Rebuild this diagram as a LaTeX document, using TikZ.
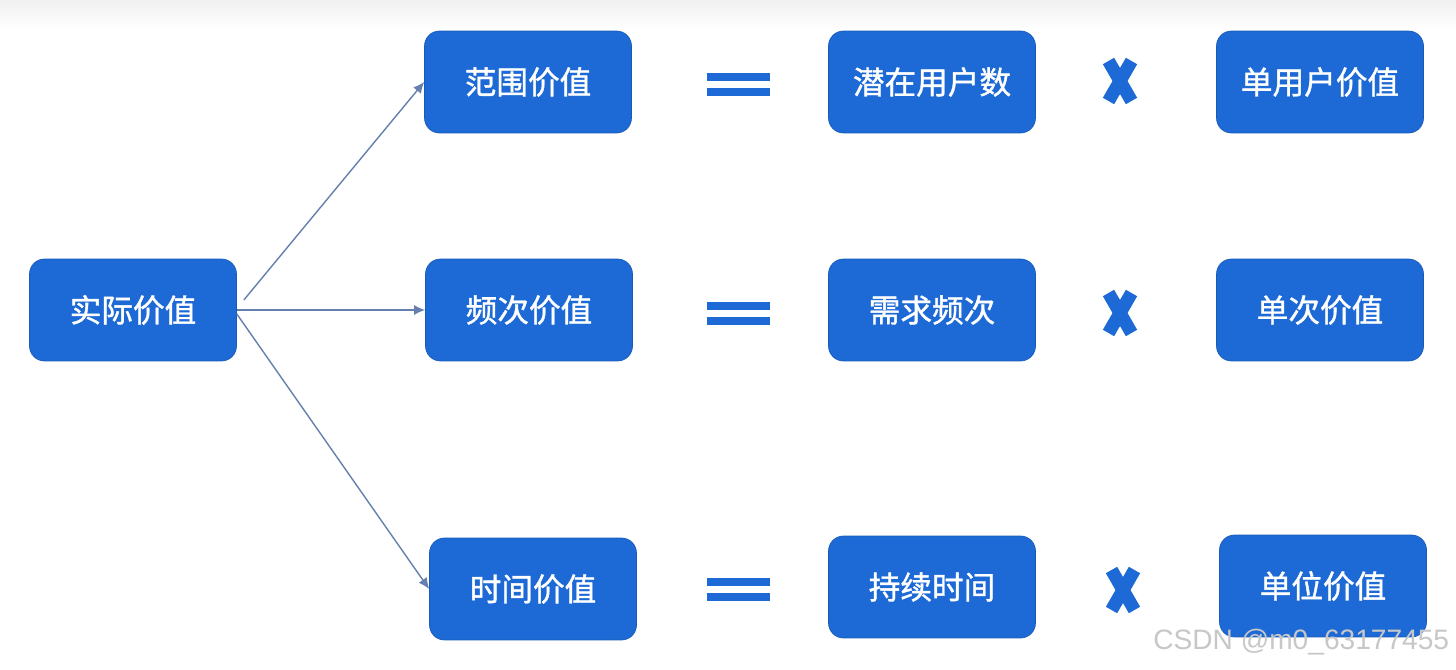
\documentclass[tikz,border=0pt]{standalone}
\usepackage{fontspec}
\newfontfamily\cjk{Noto Sans CJK SC}[FakeBold=1.2]
\setsansfont{Liberation Sans}
\usetikzlibrary{positioning,arrows.meta}
\definecolor{boxblue}{HTML}{1D6AD6}
\definecolor{edgeblue}{HTML}{6580AE}

\begin{document}
\begin{tikzpicture}[
    x=0.02cm, y=-0.02cm,
    box/.style={draw=boxblue!85!black, fill=boxblue, rounded corners=0.3cm,
      minimum width=4.14cm, minimum height=2.04cm, text=white,
      font=\cjk\fontsize{18}{20}\selectfont},
    link/.style={->, draw=edgeblue, line width=0.8pt},
    >={Latex[length=2.2mm,width=2mm]}
  ]
  \useasboundingbox (0,0) rectangle (1456,669);
  \shade[top color=black!6, bottom color=white] (0,0) rectangle (1456,30);

  % Boxes
  \node[box] (actual) at (133,310) {实际价值};
  \node[box] (range) at (528,82) {范围价值};
  \node[box] (freq) at (529,310) {频次价值};
  \node[box] (time) at (533,589) {时间价值};
  \node[box] (users) at (932,82) {潜在用户数};
  \node[box] (demand) at (932,310) {需求频次};
  \node[box] (duration) at (932,587) {持续时间};
  \node[box] (peruser) at (1320,82) {单用户价值};
  \node[box] (pertime) at (1320,310) {单次价值};
  \node[box] (perunit) at (1323,586) {单位价值};

  % Equals and times signs
  \foreach \y in {84.5,313,589.5} {
    \fill[boxblue] (707,\y-11.5) rectangle (770,\y-3.5);
    \fill[boxblue] (707,\y+3.5) rectangle (770,\y+11.5);
  }
  \foreach \x/\y in {1120/81,1120/313,1123/590} {
    \draw[boxblue, line width=0.26cm] (\x-11.5,\y-20) -- (\x+11.5,\y+20);
    \draw[boxblue, line width=0.26cm] (\x+11.5,\y-20) -- (\x-11.5,\y+20);
  }

  % Edges
  \draw[link] ([xshift=0.14cm,yshift=0.2cm]actual.east) -- (range.west);
  \draw[link] (actual.east) -- (freq.west);
  \draw[link] ([yshift=-0.08cm]actual.east) -- (time.west);

  % Watermark
  \node[anchor=west, inner sep=0, text=black!22,
    font=\sffamily\fontsize{16}{18}\selectfont] (mark) at (1153,642) {CSDN @m0\_63177455};
\end{tikzpicture}
\end{document}
